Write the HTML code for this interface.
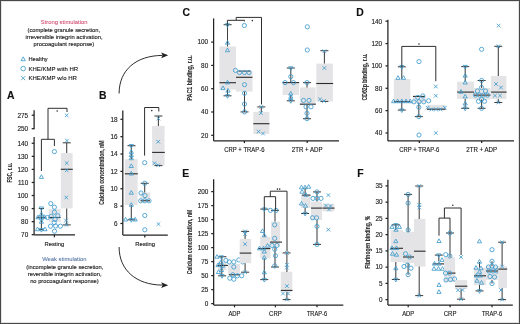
<!DOCTYPE html><html><head><meta charset="utf-8"><style>
html,body{margin:0;padding:0;background:#fff;position:relative;width:520px;height:324px;overflow:hidden;}
svg{display:block;filter:blur(0.3px);}
text{font-family:"Liberation Sans", sans-serif;}
.m{fill:none;stroke:#409cce;stroke-width:0.85;}
.med{stroke:#2b2b2b;stroke-width:1.1;fill:none;}
.wh{stroke:#404040;stroke-width:1.05;fill:none;}
.ln{stroke:#333;stroke-width:0.8;fill:none;}
.ax{stroke:#222;stroke-width:1.25;fill:none;}
.br{stroke:#2e2e2e;stroke-width:1.0;fill:none;}
</style></head><body>
<svg width="520" height="324" viewBox="0 0 520 324">
<rect x="0" y="0" width="520" height="324" fill="#fff"/>
<text x="64.15" y="24.00" font-size="6.0" text-anchor="middle" fill="#cf3f68" stroke="#cf3f68" stroke-width="0.04" font-weight="normal"  textLength="46.8" lengthAdjust="spacingAndGlyphs">Strong stimulation</text>
<text x="63.80" y="31.50" font-size="6.0" text-anchor="middle" fill="#222" stroke="#222" stroke-width="0.14" font-weight="normal"  textLength="72.5" lengthAdjust="spacingAndGlyphs">(complete granule secretion,</text>
<text x="64.05" y="38.80" font-size="6.0" text-anchor="middle" fill="#222" stroke="#222" stroke-width="0.14" font-weight="normal"  textLength="77.0" lengthAdjust="spacingAndGlyphs">irreversible integrin activation,</text>
<text x="63.90" y="46.10" font-size="6.0" text-anchor="middle" fill="#222" stroke="#222" stroke-width="0.14" font-weight="normal"  textLength="60.7" lengthAdjust="spacingAndGlyphs">procoagulant response)</text>
<path d="M21.00,60.68L25.40,60.68L23.20,56.85Z" class="m"/>
<circle cx="23.20" cy="68.60" r="2.3" class="m"/>
<path d="M21.20,76.20L25.20,80.20M25.20,76.20L21.20,80.20" class="m"/>
<text x="28.50" y="61.30" font-size="6.1" text-anchor="start" fill="#222" stroke="#222" stroke-width="0.14" font-weight="normal"  textLength="19.2" lengthAdjust="spacingAndGlyphs">Healthy</text>
<text x="28.50" y="70.70" font-size="6.1" text-anchor="start" fill="#222" stroke="#222" stroke-width="0.14" font-weight="normal"  textLength="49.6" lengthAdjust="spacingAndGlyphs">KHE/KMP with HR</text>
<text x="28.50" y="80.30" font-size="6.1" text-anchor="start" fill="#222" stroke="#222" stroke-width="0.14" font-weight="normal"  textLength="48.4" lengthAdjust="spacingAndGlyphs">KHE/KMP w/o HR</text>
<text x="64.35" y="261.30" font-size="6.0" text-anchor="middle" fill="#4a6b9b" stroke="#4a6b9b" stroke-width="0.04" font-weight="normal"  textLength="44.4" lengthAdjust="spacingAndGlyphs">Weak stimulation</text>
<text x="64.80" y="268.60" font-size="6.0" text-anchor="middle" fill="#222" stroke="#222" stroke-width="0.14" font-weight="normal"  textLength="77.1" lengthAdjust="spacingAndGlyphs">(incomplete granule secretion,</text>
<text x="64.65" y="275.90" font-size="6.0" text-anchor="middle" fill="#222" stroke="#222" stroke-width="0.14" font-weight="normal"  textLength="73.8" lengthAdjust="spacingAndGlyphs">reversible integrin activation,</text>
<text x="64.45" y="283.20" font-size="6.0" text-anchor="middle" fill="#222" stroke="#222" stroke-width="0.14" font-weight="normal"  textLength="68.6" lengthAdjust="spacingAndGlyphs">no procoagulant response)</text>
<path d="M119.1,93.5 C119.1,70 136,55.6 162.5,55.4" fill="none" stroke="#222" stroke-width="0.95"/>
<path d="M168.2,55.3 L161.2,52.4 L162.6,55.3 L161.2,58.2 Z" fill="#222"/>
<path d="M119.1,247 C119.1,270 136,284.9 162.5,285.1" fill="none" stroke="#222" stroke-width="0.95"/>
<path d="M168.2,285.2 L161.2,282.3 L162.6,285.2 L161.2,288.1 Z" fill="#222"/>
<text x="6.90" y="99.20" font-size="10.4" text-anchor="start" fill="#111" stroke="#111" stroke-width="0.14" font-weight="bold" >A</text>
<text x="98.90" y="98.80" font-size="10.4" text-anchor="start" fill="#111" stroke="#111" stroke-width="0.14" font-weight="bold" >B</text>
<text x="182.40" y="15.60" font-size="10.4" text-anchor="start" fill="#111" stroke="#111" stroke-width="0.14" font-weight="bold" >C</text>
<text x="356.20" y="15.60" font-size="10.4" text-anchor="start" fill="#111" stroke="#111" stroke-width="0.14" font-weight="bold" >D</text>
<text x="182.30" y="176.50" font-size="10.4" text-anchor="start" fill="#111" stroke="#111" stroke-width="0.14" font-weight="bold" >E</text>
<text x="357.30" y="176.70" font-size="10.4" text-anchor="start" fill="#111" stroke="#111" stroke-width="0.14" font-weight="bold" >F</text>
<path d="M34.10,110.20L34.10,129.30" class="ax"/>
<path d="M31.70,115.20L34.10,115.20" class="ax"/>
<text x="28.20" y="117.50" font-size="6.4" text-anchor="end" fill="#222" stroke="#222" stroke-width="0.14">275</text>
<path d="M31.70,128.70L34.10,128.70" class="ax"/>
<text x="28.20" y="131.00" font-size="6.4" text-anchor="end" fill="#222" stroke="#222" stroke-width="0.14">250</text>
<path d="M34.10,137.00L34.10,234.80" class="ax"/>
<path d="M31.70,234.70L34.10,234.70" class="ax"/>
<text x="28.20" y="237.00" font-size="6.4" text-anchor="end" fill="#222" stroke="#222" stroke-width="0.14">70</text>
<path d="M31.70,221.64L34.10,221.64" class="ax"/>
<text x="28.20" y="223.94" font-size="6.4" text-anchor="end" fill="#222" stroke="#222" stroke-width="0.14">80</text>
<path d="M31.70,208.58L34.10,208.58" class="ax"/>
<text x="28.20" y="210.88" font-size="6.4" text-anchor="end" fill="#222" stroke="#222" stroke-width="0.14">90</text>
<path d="M31.70,195.52L34.10,195.52" class="ax"/>
<text x="28.20" y="197.82" font-size="6.4" text-anchor="end" fill="#222" stroke="#222" stroke-width="0.14">100</text>
<path d="M31.70,182.46L34.10,182.46" class="ax"/>
<text x="28.20" y="184.76" font-size="6.4" text-anchor="end" fill="#222" stroke="#222" stroke-width="0.14">110</text>
<path d="M31.70,169.40L34.10,169.40" class="ax"/>
<text x="28.20" y="171.70" font-size="6.4" text-anchor="end" fill="#222" stroke="#222" stroke-width="0.14">120</text>
<path d="M31.70,156.34L34.10,156.34" class="ax"/>
<text x="28.20" y="158.64" font-size="6.4" text-anchor="end" fill="#222" stroke="#222" stroke-width="0.14">130</text>
<path d="M31.70,143.28L34.10,143.28" class="ax"/>
<text x="28.20" y="145.58" font-size="6.4" text-anchor="end" fill="#222" stroke="#222" stroke-width="0.14">140</text>
<path d="M34.10,234.80L75.00,234.80" class="ax"/>
<path d="M54.40,234.80L54.40,237.30" class="ax"/>
<text x="54.40" y="246.30" font-size="6.0" text-anchor="middle" fill="#222" stroke="#222" stroke-width="0.14" font-weight="normal"  textLength="19.6" lengthAdjust="spacingAndGlyphs">Resting</text>
<text transform="translate(12.40,172.80) rotate(-90)" font-size="6.6" font-weight="bold" text-anchor="middle" fill="#2a2a2a" stroke="#2a2a2a" stroke-width="0.12" textLength="19.6" lengthAdjust="spacingAndGlyphs">FSC, r.u.</text>
<path d="M41.40,208.50L41.40,229.70" class="wh"/>
<path d="M38.80,208.50L44.00,208.50" class="wh"/>
<path d="M38.80,229.70L44.00,229.70" class="wh"/>
<path d="M37.20,217.30H45.20" class="med"/>
<path d="M39.30,178.42L43.50,178.42L41.40,174.76Z" class="m"/>
<path d="M39.30,206.98L43.50,206.98L41.40,210.64Z" class="m"/>
<path d="M39.30,215.72L43.50,215.72L41.40,212.06Z" class="m"/>
<path d="M35.90,218.72L40.10,218.72L38.00,215.06Z" class="m"/>
<path d="M39.30,219.72L43.50,219.72L41.40,216.06Z" class="m"/>
<path d="M42.40,218.42L46.60,218.42L44.50,214.76Z" class="m"/>
<path d="M39.30,223.22L43.50,223.22L41.40,219.56Z" class="m"/>
<path d="M35.40,230.72L39.60,230.72L37.50,227.06Z" class="m"/>
<path d="M39.30,228.48L43.50,228.48L41.40,232.14Z" class="m"/>
<path d="M42.90,230.72L47.10,230.72L45.00,227.06Z" class="m"/>
<rect x="48.60" y="209.00" width="12.00" height="13.00" fill="#e4e4e6"/>
<path d="M48.60,217.50H60.60" class="med"/>
<circle cx="54.40" cy="151.60" r="2.1" class="m"/>
<circle cx="50.80" cy="203.60" r="2.1" class="m"/>
<circle cx="54.40" cy="207.20" r="2.1" class="m"/>
<circle cx="54.40" cy="212.20" r="2.1" class="m"/>
<circle cx="51.20" cy="216.40" r="2.1" class="m"/>
<circle cx="55.00" cy="219.40" r="2.1" class="m"/>
<circle cx="57.80" cy="215.80" r="2.1" class="m"/>
<circle cx="54.20" cy="222.60" r="2.1" class="m"/>
<circle cx="50.50" cy="226.20" r="2.1" class="m"/>
<circle cx="55.60" cy="226.00" r="2.1" class="m"/>
<circle cx="60.40" cy="226.20" r="2.1" class="m"/>
<circle cx="54.50" cy="231.20" r="2.1" class="m"/>
<circle cx="47.50" cy="217.50" r="2.1" class="m"/>
<rect x="60.80" y="153.00" width="11.80" height="55.40" fill="#e4e4e6"/>
<path d="M66.70,142.80L66.70,153.00" class="wh"/>
<path d="M62.70,142.80L70.70,142.80" class="wh"/>
<path d="M66.70,208.40L66.70,224.90" class="wh"/>
<path d="M62.70,224.90L70.70,224.90" class="wh"/>
<path d="M60.80,169.30H72.80" class="med"/>
<path d="M64.90,113.60L68.50,117.20M68.50,113.60L64.90,117.20" class="m"/>
<path d="M65.10,138.80L68.70,142.40M68.70,138.80L65.10,142.40" class="m"/>
<path d="M64.90,161.30L68.50,164.90M68.50,161.30L64.90,164.90" class="m"/>
<path d="M64.90,168.50L68.50,172.10M68.50,168.50L64.90,172.10" class="m"/>
<path d="M64.50,195.70L68.10,199.30M68.10,195.70L64.50,199.30" class="m"/>
<path d="M64.20,218.70L67.80,222.30M67.80,218.70L64.20,222.30" class="m"/>
<path d="M64.70,223.10L68.30,226.70M68.30,223.10L64.70,226.70" class="m"/>
<path d="M48.00,139.30V108.30H67.00V112.00" class="br"/>
<path d="M41.40,171.00V139.30H54.40V146.00" class="br"/>
<circle cx="57.20" cy="111.00" r="0.8" fill="#2a2a2a"/>
<path d="M122.80,110.40L122.80,235.10" class="ax"/>
<path d="M120.40,223.46L122.80,223.46" class="ax"/>
<text x="117.60" y="225.76" font-size="6.4" text-anchor="end" fill="#222" stroke="#222" stroke-width="0.14">6</text>
<path d="M120.40,206.10L122.80,206.10" class="ax"/>
<text x="117.60" y="208.40" font-size="6.4" text-anchor="end" fill="#222" stroke="#222" stroke-width="0.14">8</text>
<path d="M120.40,188.74L122.80,188.74" class="ax"/>
<text x="117.60" y="191.04" font-size="6.4" text-anchor="end" fill="#222" stroke="#222" stroke-width="0.14">10</text>
<path d="M120.40,171.38L122.80,171.38" class="ax"/>
<text x="117.60" y="173.68" font-size="6.4" text-anchor="end" fill="#222" stroke="#222" stroke-width="0.14">12</text>
<path d="M120.40,154.02L122.80,154.02" class="ax"/>
<text x="117.60" y="156.32" font-size="6.4" text-anchor="end" fill="#222" stroke="#222" stroke-width="0.14">14</text>
<path d="M120.40,136.66L122.80,136.66" class="ax"/>
<text x="117.60" y="138.96" font-size="6.4" text-anchor="end" fill="#222" stroke="#222" stroke-width="0.14">16</text>
<path d="M120.40,119.30L122.80,119.30" class="ax"/>
<text x="117.60" y="121.60" font-size="6.4" text-anchor="end" fill="#222" stroke="#222" stroke-width="0.14">18</text>
<path d="M122.80,235.10L167.80,235.10" class="ax"/>
<path d="M144.80,235.10L144.80,237.40" class="ax"/>
<text x="145.10" y="246.40" font-size="6.0" text-anchor="middle" fill="#222" stroke="#222" stroke-width="0.14" font-weight="normal"  textLength="19.8" lengthAdjust="spacingAndGlyphs">Resting</text>
<text transform="translate(104.40,172.60) rotate(-90)" font-size="6.6" font-weight="bold" text-anchor="middle" fill="#2a2a2a" stroke="#2a2a2a" stroke-width="0.12" textLength="64.3" lengthAdjust="spacingAndGlyphs">Calcium concentration, nM</text>
<rect x="124.80" y="159.20" width="12.80" height="45.80" fill="#e4e4e6"/>
<path d="M131.30,145.70L131.30,159.20" class="wh"/>
<path d="M127.50,145.70L135.50,145.70" class="wh"/>
<path d="M131.30,205.00L131.30,219.80" class="wh"/>
<path d="M127.50,219.80L135.50,219.80" class="wh"/>
<path d="M124.80,173.80H137.80" class="med"/>
<path d="M129.20,144.48L133.40,144.48L131.30,148.14Z" class="m"/>
<path d="M129.20,153.32L133.40,153.32L131.30,149.66Z" class="m"/>
<path d="M129.20,156.52L133.40,156.52L131.30,152.86Z" class="m"/>
<path d="M129.20,159.72L133.40,159.72L131.30,156.06Z" class="m"/>
<path d="M129.20,167.52L133.40,167.52L131.30,163.86Z" class="m"/>
<path d="M129.20,175.02L133.40,175.02L131.30,171.36Z" class="m"/>
<path d="M129.20,194.22L133.40,194.22L131.30,190.56Z" class="m"/>
<path d="M129.20,206.32L133.40,206.32L131.30,202.66Z" class="m"/>
<path d="M123.50,221.02L127.70,221.02L125.60,217.36Z" class="m"/>
<path d="M129.20,218.58L133.40,218.58L131.30,222.24Z" class="m"/>
<path d="M133.10,221.02L137.30,221.02L135.20,217.36Z" class="m"/>
<rect x="140.50" y="192.50" width="9.50" height="8.50" fill="#e4e4e6"/>
<path d="M144.70,183.30L144.70,192.50" class="wh"/>
<path d="M140.70,183.30L148.70,183.30" class="wh"/>
<path d="M140.50,200.80H150.00" class="med"/>
<circle cx="144.70" cy="162.70" r="2.1" class="m"/>
<circle cx="144.70" cy="183.30" r="2.1" class="m"/>
<circle cx="141.00" cy="193.00" r="2.1" class="m"/>
<circle cx="145.00" cy="195.60" r="2.1" class="m"/>
<circle cx="140.70" cy="200.80" r="2.1" class="m"/>
<circle cx="144.80" cy="200.80" r="2.1" class="m"/>
<circle cx="149.00" cy="200.80" r="2.1" class="m"/>
<circle cx="144.80" cy="215.50" r="2.1" class="m"/>
<circle cx="144.80" cy="229.80" r="2.1" class="m"/>
<rect x="152.10" y="125.90" width="12.50" height="39.70" fill="#e4e4e6"/>
<path d="M158.40,116.00L158.40,125.90" class="wh"/>
<path d="M154.40,116.00L162.40,116.00" class="wh"/>
<path d="M152.10,152.40H164.80" class="med"/>
<path d="M154.40,165.60L162.40,165.60" class="wh"/>
<path d="M156.60,116.80L160.20,120.40M160.20,116.80L156.60,120.40" class="m"/>
<path d="M156.40,139.90L160.00,143.50M160.00,139.90L156.40,143.50" class="m"/>
<path d="M152.70,161.40L156.30,165.00M156.30,161.40L152.70,165.00" class="m"/>
<path d="M156.40,163.40L160.00,167.00M160.00,163.40L156.40,167.00" class="m"/>
<path d="M156.70,222.30L160.30,225.90M160.30,222.30L156.70,225.90" class="m"/>
<path d="M144.60,155.60V107.50H158.80V111.50" class="br"/>
<circle cx="151.80" cy="110.60" r="0.8" fill="#2a2a2a"/>
<path d="M213.60,18.40L213.60,140.90" class="ax"/>
<path d="M211.20,135.30L213.60,135.30" class="ax"/>
<text x="208.20" y="137.60" font-size="6.4" text-anchor="end" fill="#222" stroke="#222" stroke-width="0.14">20</text>
<path d="M211.20,112.00L213.60,112.00" class="ax"/>
<text x="208.20" y="114.30" font-size="6.4" text-anchor="end" fill="#222" stroke="#222" stroke-width="0.14">40</text>
<path d="M211.20,88.70L213.60,88.70" class="ax"/>
<text x="208.20" y="91.00" font-size="6.4" text-anchor="end" fill="#222" stroke="#222" stroke-width="0.14">60</text>
<path d="M211.20,65.40L213.60,65.40" class="ax"/>
<text x="208.20" y="67.70" font-size="6.4" text-anchor="end" fill="#222" stroke="#222" stroke-width="0.14">80</text>
<path d="M211.20,42.10L213.60,42.10" class="ax"/>
<text x="208.20" y="44.40" font-size="6.4" text-anchor="end" fill="#222" stroke="#222" stroke-width="0.14">100</text>
<path d="M213.60,140.90L339.00,140.90" class="ax"/>
<path d="M244.40,140.90L244.40,143.10" class="ax"/>
<text x="244.40" y="152.00" font-size="6.3" text-anchor="middle" fill="#222" stroke="#222" stroke-width="0.14" font-weight="normal"  textLength="40.2" lengthAdjust="spacingAndGlyphs">CRP + TRAP-6</text>
<path d="M307.20,140.90L307.20,143.10" class="ax"/>
<text x="307.20" y="152.00" font-size="6.3" text-anchor="middle" fill="#222" stroke="#222" stroke-width="0.14" font-weight="normal"  textLength="30.8" lengthAdjust="spacingAndGlyphs">2TR + ADP</text>
<text transform="translate(192.40,77.90) rotate(-90)" font-size="6.6" font-weight="bold" text-anchor="middle" fill="#2a2a2a" stroke="#2a2a2a" stroke-width="0.12" textLength="45.4" lengthAdjust="spacingAndGlyphs">PAC1 binding, r.u.</text>
<rect x="219.40" y="46.50" width="16.60" height="43.10" fill="#e4e4e6"/>
<path d="M227.50,24.70L227.50,46.50" class="wh"/>
<path d="M223.60,24.70L231.60,24.70" class="wh"/>
<path d="M227.50,89.60L227.50,95.80" class="wh"/>
<path d="M223.50,95.80L231.50,95.80" class="wh"/>
<path d="M219.40,82.70H236.00" class="med"/>
<path d="M225.40,23.68L229.60,23.68L227.50,27.34Z" class="m"/>
<path d="M225.40,44.22L229.60,44.22L227.50,40.56Z" class="m"/>
<path d="M225.40,51.72L229.60,51.72L227.50,48.06Z" class="m"/>
<path d="M225.40,83.92L229.60,83.92L227.50,80.26Z" class="m"/>
<path d="M220.90,89.62L225.10,89.62L223.00,85.96Z" class="m"/>
<path d="M225.90,92.12L230.10,92.12L228.00,88.46Z" class="m"/>
<path d="M225.40,94.58L229.60,94.58L227.50,98.24Z" class="m"/>
<rect x="236.00" y="71.10" width="16.50" height="20.50" fill="#e4e4e6"/>
<path d="M244.50,91.60L244.50,111.90" class="wh"/>
<path d="M240.50,111.90L248.50,111.90" class="wh"/>
<path d="M238.50,71.10L250.50,71.10" class="wh"/>
<path d="M236.00,77.30H252.50" class="med"/>
<circle cx="244.40" cy="25.50" r="2.1" class="m"/>
<circle cx="235.50" cy="70.40" r="2.1" class="m"/>
<circle cx="239.50" cy="72.50" r="2.1" class="m"/>
<circle cx="244.50" cy="72.50" r="2.1" class="m"/>
<circle cx="249.00" cy="72.50" r="2.1" class="m"/>
<circle cx="244.50" cy="84.70" r="2.1" class="m"/>
<circle cx="244.50" cy="93.30" r="2.1" class="m"/>
<circle cx="244.50" cy="104.00" r="2.1" class="m"/>
<circle cx="244.50" cy="111.90" r="2.1" class="m"/>
<rect x="253.30" y="111.90" width="16.00" height="22.10" fill="#e4e4e6"/>
<path d="M261.30,106.90L261.30,111.90" class="wh"/>
<path d="M257.30,106.90L265.30,106.90" class="wh"/>
<path d="M253.30,123.70H269.50" class="med"/>
<path d="M259.50,105.10L263.10,108.70M263.10,105.10L259.50,108.70" class="m"/>
<path d="M259.10,111.30L262.70,114.90M262.70,111.30L259.10,114.90" class="m"/>
<path d="M256.70,129.80L260.30,133.40M260.30,129.80L256.70,133.40" class="m"/>
<path d="M261.20,131.70L264.80,135.30M264.80,131.70L261.20,135.30" class="m"/>
<path d="M236.20,20.30V17.40H261.50V104.40" class="br"/>
<path d="M227.40,24.40V20.30H244.50V21.40" class="br"/>
<circle cx="252.30" cy="20.60" r="0.8" fill="#2a2a2a"/>
<rect x="282.60" y="82.60" width="16.40" height="12.40" fill="#e4e4e6"/>
<path d="M290.80,68.00L290.80,82.60" class="wh"/>
<path d="M286.80,68.00L294.80,68.00" class="wh"/>
<path d="M290.80,95.00L290.80,100.80" class="wh"/>
<path d="M286.80,100.80L294.80,100.80" class="wh"/>
<path d="M282.60,82.60H299.20" class="med"/>
<path d="M288.70,66.78L292.90,66.78L290.80,70.44Z" class="m"/>
<path d="M288.70,95.12L292.90,95.12L290.80,91.46Z" class="m"/>
<path d="M288.70,98.32L292.90,98.32L290.80,94.66Z" class="m"/>
<path d="M288.70,99.58L292.90,99.58L290.80,103.24Z" class="m"/>
<circle cx="290.80" cy="76.60" r="2.1" class="m"/>
<circle cx="285.00" cy="82.60" r="2.1" class="m"/>
<circle cx="293.50" cy="82.60" r="2.1" class="m"/>
<rect x="299.90" y="87.40" width="15.70" height="16.80" fill="#e4e4e6"/>
<path d="M303.00,82.60L311.00,82.60" class="wh"/>
<path d="M307.00,82.60L307.00,87.40" class="wh"/>
<path d="M307.00,104.20L307.00,118.70" class="wh"/>
<path d="M303.00,118.70L311.00,118.70" class="wh"/>
<path d="M299.90,104.20H315.80" class="med"/>
<circle cx="307.30" cy="26.80" r="2.1" class="m"/>
<circle cx="307.30" cy="50.00" r="2.1" class="m"/>
<circle cx="307.00" cy="82.60" r="2.1" class="m"/>
<circle cx="303.50" cy="100.40" r="2.1" class="m"/>
<circle cx="309.00" cy="100.40" r="2.1" class="m"/>
<circle cx="306.00" cy="106.80" r="2.1" class="m"/>
<circle cx="311.00" cy="106.80" r="2.1" class="m"/>
<circle cx="307.00" cy="113.30" r="2.1" class="m"/>
<circle cx="307.00" cy="118.70" r="2.1" class="m"/>
<rect x="316.30" y="63.60" width="16.60" height="37.80" fill="#e4e4e6"/>
<path d="M324.40,50.70L324.40,63.60" class="wh"/>
<path d="M320.40,50.70L328.40,50.70" class="wh"/>
<path d="M316.30,83.50H333.10" class="med"/>
<path d="M320.40,101.40L328.40,101.40" class="wh"/>
<path d="M322.60,49.40L326.20,53.00M326.20,49.40L322.60,53.00" class="m"/>
<path d="M322.60,66.20L326.20,69.80M326.20,66.20L322.60,69.80" class="m"/>
<path d="M318.20,97.50L321.80,101.10M321.80,97.50L318.20,101.10" class="m"/>
<path d="M322.20,99.20L325.80,102.80M325.80,99.20L322.20,102.80" class="m"/>
<path d="M387.90,19.80L387.90,140.90" class="ax"/>
<path d="M385.50,133.00L387.90,133.00" class="ax"/>
<text x="382.20" y="135.30" font-size="6.4" text-anchor="end" fill="#222" stroke="#222" stroke-width="0.14">40</text>
<path d="M385.50,110.64L387.90,110.64" class="ax"/>
<text x="382.20" y="112.94" font-size="6.4" text-anchor="end" fill="#222" stroke="#222" stroke-width="0.14">60</text>
<path d="M385.50,88.28L387.90,88.28" class="ax"/>
<text x="382.20" y="90.58" font-size="6.4" text-anchor="end" fill="#222" stroke="#222" stroke-width="0.14">80</text>
<path d="M385.50,65.92L387.90,65.92" class="ax"/>
<text x="382.20" y="68.22" font-size="6.4" text-anchor="end" fill="#222" stroke="#222" stroke-width="0.14">100</text>
<path d="M385.50,43.56L387.90,43.56" class="ax"/>
<text x="382.20" y="45.86" font-size="6.4" text-anchor="end" fill="#222" stroke="#222" stroke-width="0.14">120</text>
<path d="M385.50,21.20L387.90,21.20" class="ax"/>
<text x="382.20" y="23.50" font-size="6.4" text-anchor="end" fill="#222" stroke="#222" stroke-width="0.14">140</text>
<path d="M387.90,140.90L514.00,140.90" class="ax"/>
<path d="M419.30,140.90L419.30,143.10" class="ax"/>
<text x="419.30" y="151.70" font-size="6.3" text-anchor="middle" fill="#222" stroke="#222" stroke-width="0.14" font-weight="normal"  textLength="40.2" lengthAdjust="spacingAndGlyphs">CRP + TRAP-6</text>
<path d="M481.70,140.90L481.70,143.10" class="ax"/>
<text x="481.70" y="151.70" font-size="6.3" text-anchor="middle" fill="#222" stroke="#222" stroke-width="0.14" font-weight="normal"  textLength="30.8" lengthAdjust="spacingAndGlyphs">2TR + ADP</text>
<text transform="translate(366.80,77.00) rotate(-90)" font-size="6.6" font-weight="bold" text-anchor="middle" fill="#2a2a2a" stroke="#2a2a2a" stroke-width="0.12" textLength="46.9" lengthAdjust="spacingAndGlyphs">CD62p binding, r.u.</text>
<rect x="393.80" y="79.10" width="16.50" height="22.60" fill="#e4e4e6"/>
<path d="M401.80,66.80L401.80,79.10" class="wh"/>
<path d="M397.80,66.80L405.80,66.80" class="wh"/>
<path d="M401.80,101.70L401.80,110.10" class="wh"/>
<path d="M397.80,110.10L405.80,110.10" class="wh"/>
<path d="M393.80,101.70H410.50" class="med"/>
<path d="M399.70,65.58L403.90,65.58L401.80,69.24Z" class="m"/>
<path d="M395.90,79.32L400.10,79.32L398.00,75.66Z" class="m"/>
<path d="M401.40,79.32L405.60,79.32L403.50,75.66Z" class="m"/>
<path d="M391.50,102.72L395.70,102.72L393.60,99.06Z" class="m"/>
<path d="M395.50,102.72L399.70,102.72L397.60,99.06Z" class="m"/>
<path d="M399.70,102.72L403.90,102.72L401.80,99.06Z" class="m"/>
<path d="M403.90,102.72L408.10,102.72L406.00,99.06Z" class="m"/>
<path d="M408.10,102.72L412.30,102.72L410.20,99.06Z" class="m"/>
<path d="M399.70,108.88L403.90,108.88L401.80,112.54Z" class="m"/>
<rect x="413.00" y="96.40" width="13.00" height="6.10" fill="#e4e4e6"/>
<path d="M413.00,96.40H425.00" class="med"/>
<path d="M418.80,102.50L418.80,116.60" class="wh"/>
<path d="M414.80,116.60L422.80,116.60" class="wh"/>
<circle cx="419.00" cy="61.60" r="2.1" class="m"/>
<circle cx="417.80" cy="97.40" r="2.1" class="m"/>
<circle cx="422.80" cy="95.90" r="2.1" class="m"/>
<circle cx="414.00" cy="101.80" r="2.1" class="m"/>
<circle cx="419.00" cy="101.80" r="2.1" class="m"/>
<circle cx="423.80" cy="101.80" r="2.1" class="m"/>
<circle cx="428.70" cy="100.80" r="2.1" class="m"/>
<circle cx="418.80" cy="107.20" r="2.1" class="m"/>
<circle cx="418.80" cy="116.60" r="2.1" class="m"/>
<circle cx="419.00" cy="135.00" r="2.1" class="m"/>
<rect x="427.00" y="104.80" width="18.50" height="5.70" fill="#e4e4e6"/>
<path d="M427.00,109.20H445.50" class="med"/>
<path d="M434.00,84.70L437.60,88.30M437.60,84.70L434.00,88.30" class="m"/>
<path d="M434.00,93.90L437.60,97.50M437.60,93.90L434.00,97.50" class="m"/>
<path d="M425.80,105.90L429.40,109.50M429.40,105.90L425.80,109.50" class="m"/>
<path d="M429.70,107.50L433.30,111.10M433.30,107.50L429.70,111.10" class="m"/>
<path d="M434.20,107.50L437.80,111.10M437.80,107.50L434.20,111.10" class="m"/>
<path d="M438.70,107.50L442.30,111.10M442.30,107.50L438.70,111.10" class="m"/>
<path d="M443.00,105.90L446.60,109.50M446.60,105.90L443.00,109.50" class="m"/>
<path d="M434.00,131.20L437.60,134.80M437.60,131.20L434.00,134.80" class="m"/>
<path d="M401.80,66.80V46.40H435.80V81.20" class="br"/>
<circle cx="419.00" cy="44.00" r="0.8" fill="#2a2a2a"/>
<rect x="457.10" y="81.70" width="16.90" height="17.30" fill="#e4e4e6"/>
<path d="M465.20,66.60L465.20,81.70" class="wh"/>
<path d="M461.20,66.60L469.20,66.60" class="wh"/>
<path d="M465.20,99.00L465.20,108.30" class="wh"/>
<path d="M461.20,108.30L469.20,108.30" class="wh"/>
<path d="M457.10,92.10H474.20" class="med"/>
<path d="M463.10,65.38L467.30,65.38L465.20,69.04Z" class="m"/>
<path d="M463.10,77.12L467.30,77.12L465.20,73.46Z" class="m"/>
<path d="M463.10,84.02L467.30,84.02L465.20,80.36Z" class="m"/>
<path d="M458.90,93.22L463.10,93.22L461.00,89.56Z" class="m"/>
<path d="M463.10,97.92L467.30,97.92L465.20,94.26Z" class="m"/>
<path d="M463.10,104.92L467.30,104.92L465.20,101.26Z" class="m"/>
<path d="M463.10,107.08L467.30,107.08L465.20,110.74Z" class="m"/>
<rect x="474.00" y="88.00" width="16.50" height="11.50" fill="#e4e4e6"/>
<path d="M474.00,95.10H490.50" class="med"/>
<path d="M481.60,80.50L481.60,88.00" class="wh"/>
<path d="M477.60,80.50L485.60,80.50" class="wh"/>
<path d="M481.60,99.50L481.60,108.30" class="wh"/>
<path d="M477.60,108.30L485.60,108.30" class="wh"/>
<circle cx="481.60" cy="49.30" r="2.1" class="m"/>
<circle cx="481.60" cy="80.50" r="2.1" class="m"/>
<circle cx="481.60" cy="87.50" r="2.1" class="m"/>
<circle cx="477.50" cy="91.00" r="2.1" class="m"/>
<circle cx="485.50" cy="91.00" r="2.1" class="m"/>
<circle cx="475.50" cy="95.10" r="2.1" class="m"/>
<circle cx="479.50" cy="95.10" r="2.1" class="m"/>
<circle cx="483.50" cy="95.10" r="2.1" class="m"/>
<circle cx="487.50" cy="95.10" r="2.1" class="m"/>
<circle cx="481.60" cy="99.50" r="2.1" class="m"/>
<circle cx="478.50" cy="101.30" r="2.1" class="m"/>
<circle cx="484.50" cy="101.30" r="2.1" class="m"/>
<circle cx="481.60" cy="108.30" r="2.1" class="m"/>
<rect x="490.90" y="75.90" width="15.50" height="23.10" fill="#e4e4e6"/>
<path d="M498.30,46.30L498.30,75.90" class="wh"/>
<path d="M494.30,46.30L502.30,46.30" class="wh"/>
<path d="M498.30,99.00L498.30,102.50" class="wh"/>
<path d="M494.30,102.50L502.30,102.50" class="wh"/>
<path d="M490.90,92.10H506.60" class="med"/>
<path d="M496.80,23.80L500.40,27.40M500.40,23.80L496.80,27.40" class="m"/>
<path d="M496.50,44.50L500.10,48.10M500.10,44.50L496.50,48.10" class="m"/>
<path d="M494.20,82.20L497.80,85.80M497.80,82.20L494.20,85.80" class="m"/>
<path d="M499.20,85.70L502.80,89.30M502.80,85.70L499.20,89.30" class="m"/>
<path d="M493.20,93.80L496.80,97.40M496.80,93.80L493.20,97.40" class="m"/>
<path d="M498.20,93.80L501.80,97.40M501.80,93.80L498.20,97.40" class="m"/>
<path d="M496.50,100.70L500.10,104.30M500.10,100.70L496.50,104.30" class="m"/>
<path d="M213.65,179.30L213.65,305.10" class="ax"/>
<path d="M211.25,303.60L213.65,303.60" class="ax"/>
<text x="208.40" y="305.90" font-size="6.4" text-anchor="end" fill="#222" stroke="#222" stroke-width="0.14">0</text>
<path d="M211.25,289.60L213.65,289.60" class="ax"/>
<text x="208.40" y="291.90" font-size="6.4" text-anchor="end" fill="#222" stroke="#222" stroke-width="0.14">25</text>
<path d="M211.25,275.60L213.65,275.60" class="ax"/>
<text x="208.40" y="277.90" font-size="6.4" text-anchor="end" fill="#222" stroke="#222" stroke-width="0.14">50</text>
<path d="M211.25,261.60L213.65,261.60" class="ax"/>
<text x="208.40" y="263.90" font-size="6.4" text-anchor="end" fill="#222" stroke="#222" stroke-width="0.14">75</text>
<path d="M211.25,247.60L213.65,247.60" class="ax"/>
<text x="208.40" y="249.90" font-size="6.4" text-anchor="end" fill="#222" stroke="#222" stroke-width="0.14">100</text>
<path d="M211.25,233.60L213.65,233.60" class="ax"/>
<text x="208.40" y="235.90" font-size="6.4" text-anchor="end" fill="#222" stroke="#222" stroke-width="0.14">125</text>
<path d="M211.25,219.60L213.65,219.60" class="ax"/>
<text x="208.40" y="221.90" font-size="6.4" text-anchor="end" fill="#222" stroke="#222" stroke-width="0.14">150</text>
<path d="M211.25,205.60L213.65,205.60" class="ax"/>
<text x="208.40" y="207.90" font-size="6.4" text-anchor="end" fill="#222" stroke="#222" stroke-width="0.14">175</text>
<path d="M211.25,191.60L213.65,191.60" class="ax"/>
<text x="208.40" y="193.90" font-size="6.4" text-anchor="end" fill="#222" stroke="#222" stroke-width="0.14">200</text>
<path d="M213.65,305.10L343.30,305.10" class="ax"/>
<path d="M234.50,305.10L234.50,307.30" class="ax"/>
<text x="234.50" y="316.30" font-size="6.3" text-anchor="middle" fill="#222" stroke="#222" stroke-width="0.14" font-weight="normal"  textLength="12.1" lengthAdjust="spacingAndGlyphs">ADP</text>
<path d="M275.40,305.10L275.40,307.30" class="ax"/>
<text x="275.40" y="316.30" font-size="6.3" text-anchor="middle" fill="#222" stroke="#222" stroke-width="0.14" font-weight="normal"  textLength="12.7" lengthAdjust="spacingAndGlyphs">CRP</text>
<path d="M317.00,305.10L317.00,307.30" class="ax"/>
<text x="317.00" y="316.30" font-size="6.3" text-anchor="middle" fill="#222" stroke="#222" stroke-width="0.14" font-weight="normal"  textLength="20.2" lengthAdjust="spacingAndGlyphs">TRAP-6</text>
<text transform="translate(191.90,242.00) rotate(-90)" font-size="6.6" font-weight="bold" text-anchor="middle" fill="#2a2a2a" stroke="#2a2a2a" stroke-width="0.12" textLength="64.3" lengthAdjust="spacingAndGlyphs">Calcium concentration, nM</text>
<rect x="218.00" y="261.50" width="8.50" height="8.50" fill="#e4e4e6"/>
<path d="M221.80,257.00L221.80,275.80" class="wh"/>
<path d="M218.40,256.70L226.40,256.70" class="wh"/>
<path d="M218.10,275.80L226.10,275.80" class="wh"/>
<path d="M217.50,265.40H227.90" class="med"/>
<path d="M214.90,258.22L219.10,258.22L217.00,254.56Z" class="m"/>
<path d="M219.30,255.78L223.50,255.78L221.40,259.44Z" class="m"/>
<path d="M218.80,263.72L223.00,263.72L220.90,260.06Z" class="m"/>
<path d="M215.90,266.62L220.10,266.62L218.00,262.96Z" class="m"/>
<path d="M220.40,267.22L224.60,267.22L222.50,263.56Z" class="m"/>
<path d="M219.40,271.52L223.60,271.52L221.50,267.86Z" class="m"/>
<path d="M216.40,273.52L220.60,273.52L218.50,269.86Z" class="m"/>
<path d="M219.90,274.58L224.10,274.58L222.00,278.24Z" class="m"/>
<rect x="228.00" y="264.00" width="12.00" height="10.80" fill="#e4e4e6"/>
<path d="M228.90,274.80H240.00" class="med"/>
<circle cx="225.90" cy="260.40" r="2.1" class="m"/>
<circle cx="229.30" cy="261.90" r="2.1" class="m"/>
<circle cx="233.80" cy="261.90" r="2.1" class="m"/>
<circle cx="238.80" cy="259.90" r="2.1" class="m"/>
<circle cx="242.70" cy="261.90" r="2.1" class="m"/>
<circle cx="233.80" cy="266.90" r="2.1" class="m"/>
<circle cx="232.80" cy="274.80" r="2.1" class="m"/>
<circle cx="237.30" cy="275.80" r="2.1" class="m"/>
<circle cx="241.70" cy="275.80" r="2.1" class="m"/>
<circle cx="229.80" cy="278.20" r="2.1" class="m"/>
<circle cx="233.80" cy="279.20" r="2.1" class="m"/>
<rect x="239.70" y="239.00" width="11.50" height="24.20" fill="#e4e4e6"/>
<path d="M245.10,231.40L245.10,239.00" class="wh"/>
<path d="M241.10,231.40L249.10,231.40" class="wh"/>
<path d="M245.10,263.20L245.10,272.20" class="wh"/>
<path d="M241.10,272.20L249.10,272.20" class="wh"/>
<path d="M239.70,253.10H251.40" class="med"/>
<path d="M243.30,229.60L246.90,233.20M246.90,229.60L243.30,233.20" class="m"/>
<path d="M243.30,232.20L246.90,235.80M246.90,232.20L243.30,235.80" class="m"/>
<path d="M243.30,242.30L246.90,245.90M246.90,242.30L243.30,245.90" class="m"/>
<path d="M243.30,270.40L246.90,274.00M246.90,270.40L243.30,274.00" class="m"/>
<rect x="260.20" y="236.70" width="10.20" height="21.60" fill="#e4e4e6"/>
<path d="M264.30,209.10L264.30,236.70" class="wh"/>
<path d="M260.30,209.10L268.30,209.10" class="wh"/>
<path d="M264.30,258.30L264.30,279.60" class="wh"/>
<path d="M260.30,279.60L268.30,279.60" class="wh"/>
<path d="M258.20,248.60H270.40" class="med"/>
<path d="M262.20,207.88L266.40,207.88L264.30,211.54Z" class="m"/>
<path d="M260.40,232.52L264.60,232.52L262.50,228.86Z" class="m"/>
<path d="M262.20,236.82L266.40,236.82L264.30,233.16Z" class="m"/>
<path d="M257.40,249.82L261.60,249.82L259.50,246.16Z" class="m"/>
<path d="M261.40,249.82L265.60,249.82L263.50,246.16Z" class="m"/>
<path d="M265.40,247.22L269.60,247.22L267.50,243.56Z" class="m"/>
<path d="M262.20,253.02L266.40,253.02L264.30,249.36Z" class="m"/>
<path d="M262.20,259.12L266.40,259.12L264.30,255.46Z" class="m"/>
<path d="M262.20,273.82L266.40,273.82L264.30,270.16Z" class="m"/>
<path d="M262.20,278.38L266.40,278.38L264.30,282.04Z" class="m"/>
<rect x="271.00" y="221.60" width="9.10" height="24.80" fill="#e4e4e6"/>
<path d="M275.00,210.40L275.00,221.60" class="wh"/>
<path d="M271.00,210.40L279.00,210.40" class="wh"/>
<path d="M275.00,246.40L275.00,267.00" class="wh"/>
<path d="M271.00,267.00L279.00,267.00" class="wh"/>
<path d="M270.00,242.10H282.00" class="med"/>
<circle cx="270.50" cy="210.40" r="2.1" class="m"/>
<circle cx="276.00" cy="210.40" r="2.1" class="m"/>
<circle cx="274.70" cy="224.80" r="2.1" class="m"/>
<circle cx="274.70" cy="238.40" r="2.1" class="m"/>
<circle cx="272.00" cy="245.40" r="2.1" class="m"/>
<circle cx="277.00" cy="245.40" r="2.1" class="m"/>
<circle cx="274.70" cy="249.20" r="2.1" class="m"/>
<circle cx="275.50" cy="255.80" r="2.1" class="m"/>
<circle cx="274.70" cy="265.90" r="2.1" class="m"/>
<rect x="280.80" y="271.70" width="11.50" height="20.00" fill="#e4e4e6"/>
<path d="M286.90,252.90L286.90,271.90" class="wh"/>
<path d="M282.60,252.90L290.60,252.90" class="wh"/>
<path d="M286.90,291.70L286.90,299.60" class="wh"/>
<path d="M282.60,299.60L290.60,299.60" class="wh"/>
<path d="M280.80,290.40H292.50" class="med"/>
<path d="M285.10,251.10L288.70,254.70M288.70,251.10L285.10,254.70" class="m"/>
<path d="M285.10,263.00L288.70,266.60M288.70,263.00L285.10,266.60" class="m"/>
<path d="M285.10,265.80L288.70,269.40M288.70,265.80L285.10,269.40" class="m"/>
<path d="M285.10,284.30L288.70,287.90M288.70,284.30L285.10,287.90" class="m"/>
<path d="M281.20,291.70L284.80,295.30M284.80,291.70L281.20,295.30" class="m"/>
<path d="M286.20,291.70L289.80,295.30M289.80,291.70L286.20,295.30" class="m"/>
<path d="M285.10,297.80L288.70,301.40M288.70,297.80L285.10,301.40" class="m"/>
<path d="M270.30,196.70V191.20H287.00V251.60" class="br"/>
<path d="M264.30,209.10V196.70H275.60V210.00" class="br"/>
<circle cx="277.40" cy="189.10" r="0.8" fill="#2a2a2a"/>
<circle cx="279.70" cy="189.10" r="0.8" fill="#2a2a2a"/>
<rect x="301.00" y="195.10" width="9.50" height="12.90" fill="#e4e4e6"/>
<path d="M305.10,187.60L305.10,195.10" class="wh"/>
<path d="M305.10,208.00L305.10,213.50" class="wh"/>
<path d="M301.10,213.50L309.10,213.50" class="wh"/>
<path d="M301.90,195.10H310.50" class="med"/>
<path d="M299.40,188.82L303.60,188.82L301.50,185.16Z" class="m"/>
<path d="M303.00,188.82L307.20,188.82L305.10,185.16Z" class="m"/>
<path d="M306.60,188.22L310.80,188.22L308.70,184.56Z" class="m"/>
<path d="M299.90,193.22L304.10,193.22L302.00,189.56Z" class="m"/>
<path d="M303.90,196.32L308.10,196.32L306.00,192.66Z" class="m"/>
<path d="M299.40,205.02L303.60,205.02L301.50,201.36Z" class="m"/>
<path d="M303.40,207.22L307.60,207.22L305.50,203.56Z" class="m"/>
<path d="M303.00,212.28L307.20,212.28L305.10,215.94Z" class="m"/>
<rect x="311.00" y="201.60" width="11.00" height="18.40" fill="#e4e4e6"/>
<path d="M317.00,191.90L317.00,201.60" class="wh"/>
<path d="M313.00,191.90L321.00,191.90" class="wh"/>
<path d="M317.00,220.00L317.00,244.40" class="wh"/>
<path d="M313.00,244.40L321.00,244.40" class="wh"/>
<path d="M311.00,208.10H322.00" class="med"/>
<circle cx="317.00" cy="191.90" r="2.1" class="m"/>
<circle cx="313.00" cy="198.40" r="2.1" class="m"/>
<circle cx="317.00" cy="198.40" r="2.1" class="m"/>
<circle cx="321.00" cy="198.40" r="2.1" class="m"/>
<circle cx="312.50" cy="217.80" r="2.1" class="m"/>
<circle cx="316.50" cy="217.80" r="2.1" class="m"/>
<circle cx="317.00" cy="226.40" r="2.1" class="m"/>
<circle cx="317.00" cy="244.40" r="2.1" class="m"/>
<rect x="322.40" y="203.80" width="11.90" height="7.50" fill="#e4e4e6"/>
<path d="M322.40,208.10H334.50" class="med"/>
<path d="M326.60,193.30L330.20,196.90M330.20,193.30L326.60,196.90" class="m"/>
<path d="M324.20,203.70L327.80,207.30M327.80,203.70L324.20,207.30" class="m"/>
<path d="M328.70,204.20L332.30,207.80M332.30,204.20L328.70,207.80" class="m"/>
<path d="M327.20,207.70L330.80,211.30M330.80,207.70L327.20,211.30" class="m"/>
<path d="M326.60,227.90L330.20,231.50M330.20,227.90L326.60,231.50" class="m"/>
<path d="M387.90,179.80L387.90,305.10" class="ax"/>
<path d="M385.50,299.65L387.90,299.65" class="ax"/>
<text x="382.60" y="301.95" font-size="6.4" text-anchor="end" fill="#222" stroke="#222" stroke-width="0.14">0</text>
<path d="M385.50,283.40L387.90,283.40" class="ax"/>
<text x="382.60" y="285.70" font-size="6.4" text-anchor="end" fill="#222" stroke="#222" stroke-width="0.14">5</text>
<path d="M385.50,267.15L387.90,267.15" class="ax"/>
<text x="382.60" y="269.45" font-size="6.4" text-anchor="end" fill="#222" stroke="#222" stroke-width="0.14">10</text>
<path d="M385.50,250.90L387.90,250.90" class="ax"/>
<text x="382.60" y="253.20" font-size="6.4" text-anchor="end" fill="#222" stroke="#222" stroke-width="0.14">15</text>
<path d="M385.50,234.65L387.90,234.65" class="ax"/>
<text x="382.60" y="236.95" font-size="6.4" text-anchor="end" fill="#222" stroke="#222" stroke-width="0.14">20</text>
<path d="M385.50,218.40L387.90,218.40" class="ax"/>
<text x="382.60" y="220.70" font-size="6.4" text-anchor="end" fill="#222" stroke="#222" stroke-width="0.14">25</text>
<path d="M385.50,202.15L387.90,202.15" class="ax"/>
<text x="382.60" y="204.45" font-size="6.4" text-anchor="end" fill="#222" stroke="#222" stroke-width="0.14">30</text>
<path d="M385.50,185.90L387.90,185.90" class="ax"/>
<text x="382.60" y="188.20" font-size="6.4" text-anchor="end" fill="#222" stroke="#222" stroke-width="0.14">35</text>
<path d="M387.90,305.10L512.80,305.10" class="ax"/>
<path d="M408.20,305.10L408.20,307.30" class="ax"/>
<text x="408.20" y="316.30" font-size="6.3" text-anchor="middle" fill="#222" stroke="#222" stroke-width="0.14" font-weight="normal"  textLength="12.1" lengthAdjust="spacingAndGlyphs">ADP</text>
<path d="M450.10,305.10L450.10,307.30" class="ax"/>
<text x="450.10" y="316.30" font-size="6.3" text-anchor="middle" fill="#222" stroke="#222" stroke-width="0.14" font-weight="normal"  textLength="12.7" lengthAdjust="spacingAndGlyphs">CRP</text>
<path d="M492.00,305.10L492.00,307.30" class="ax"/>
<text x="492.00" y="316.30" font-size="6.3" text-anchor="middle" fill="#222" stroke="#222" stroke-width="0.14" font-weight="normal"  textLength="20.2" lengthAdjust="spacingAndGlyphs">TRAP-6</text>
<text transform="translate(370.00,242.20) rotate(-90)" font-size="6.6" font-weight="bold" text-anchor="middle" fill="#2a2a2a" stroke="#2a2a2a" stroke-width="0.12" textLength="52.6" lengthAdjust="spacingAndGlyphs">Fibrinogen binding, %</text>
<rect x="390.60" y="230.00" width="12.40" height="32.00" fill="#e4e4e6"/>
<path d="M395.80,224.80L395.80,230.00" class="wh"/>
<path d="M391.80,224.80L399.80,224.80" class="wh"/>
<path d="M395.80,262.00L395.80,279.50" class="wh"/>
<path d="M391.80,279.50L399.80,279.50" class="wh"/>
<path d="M390.60,248.30H403.00" class="med"/>
<path d="M389.90,228.42L394.10,228.42L392.00,224.76Z" class="m"/>
<path d="M393.70,223.58L397.90,223.58L395.80,227.24Z" class="m"/>
<path d="M397.40,228.42L401.60,228.42L399.50,224.76Z" class="m"/>
<path d="M393.90,231.22L398.10,231.22L396.00,227.56Z" class="m"/>
<path d="M393.70,242.72L397.90,242.72L395.80,239.06Z" class="m"/>
<path d="M389.90,249.52L394.10,249.52L392.00,245.86Z" class="m"/>
<path d="M394.40,249.52L398.60,249.52L396.50,245.86Z" class="m"/>
<path d="M390.40,255.22L394.60,255.22L392.50,251.56Z" class="m"/>
<path d="M394.40,256.22L398.60,256.22L396.50,252.56Z" class="m"/>
<path d="M393.70,269.72L397.90,269.72L395.80,266.06Z" class="m"/>
<path d="M393.70,278.28L397.90,278.28L395.80,281.94Z" class="m"/>
<rect x="403.00" y="231.90" width="11.00" height="31.10" fill="#e4e4e6"/>
<path d="M408.10,194.40L408.10,231.90" class="wh"/>
<path d="M404.10,194.40L412.10,194.40" class="wh"/>
<path d="M408.10,263.00L408.10,274.70" class="wh"/>
<path d="M403.00,257.00H414.00" class="med"/>
<circle cx="408.10" cy="194.40" r="2.1" class="m"/>
<circle cx="408.10" cy="203.10" r="2.1" class="m"/>
<circle cx="408.10" cy="230.00" r="2.1" class="m"/>
<circle cx="405.50" cy="253.80" r="2.1" class="m"/>
<circle cx="409.50" cy="257.00" r="2.1" class="m"/>
<circle cx="404.00" cy="266.50" r="2.1" class="m"/>
<circle cx="407.50" cy="265.00" r="2.1" class="m"/>
<circle cx="411.00" cy="268.20" r="2.1" class="m"/>
<circle cx="408.10" cy="274.70" r="2.1" class="m"/>
<rect x="414.00" y="218.90" width="11.40" height="47.70" fill="#e4e4e6"/>
<path d="M419.20,186.00L419.20,218.90" class="wh"/>
<path d="M415.20,186.00L423.20,186.00" class="wh"/>
<path d="M419.20,266.60L419.20,295.60" class="wh"/>
<path d="M415.20,295.60L423.20,295.60" class="wh"/>
<path d="M414.00,251.20H425.60" class="med"/>
<path d="M417.40,184.20L421.00,187.80M421.00,184.20L417.40,187.80" class="m"/>
<path d="M417.50,203.00L421.10,206.60M421.10,203.00L417.50,206.60" class="m"/>
<path d="M417.50,205.80L421.10,209.40M421.10,205.80L417.50,209.40" class="m"/>
<path d="M417.40,293.80L421.00,297.40M421.00,293.80L417.40,297.40" class="m"/>
<path d="M438.80,255.10L438.80,261.00" class="wh"/>
<path d="M434.80,255.10L442.80,255.10" class="wh"/>
<path d="M432.80,263.90H444.40" class="med"/>
<path d="M436.90,242.52L441.10,242.52L439.00,238.86Z" class="m"/>
<path d="M436.70,253.88L440.90,253.88L438.80,257.54Z" class="m"/>
<path d="M439.90,261.42L444.10,261.42L442.00,257.76Z" class="m"/>
<path d="M432.40,265.12L436.60,265.12L434.50,261.46Z" class="m"/>
<path d="M436.90,265.12L441.10,265.12L439.00,261.46Z" class="m"/>
<path d="M431.90,270.22L436.10,270.22L434.00,266.56Z" class="m"/>
<path d="M436.40,270.22L440.60,270.22L438.50,266.56Z" class="m"/>
<path d="M440.40,270.22L444.60,270.22L442.50,266.56Z" class="m"/>
<path d="M436.90,286.42L441.10,286.42L439.00,282.76Z" class="m"/>
<path d="M436.90,293.42L441.10,293.42L439.00,289.76Z" class="m"/>
<rect x="444.10" y="257.00" width="11.00" height="25.10" fill="#e4e4e6"/>
<path d="M450.00,231.10L450.00,257.00" class="wh"/>
<path d="M446.00,233.00L454.00,233.00" class="wh"/>
<path d="M447.00,273.10H455.50" class="med"/>
<circle cx="450.00" cy="233.00" r="2.1" class="m"/>
<circle cx="445.70" cy="254.60" r="2.1" class="m"/>
<circle cx="449.90" cy="256.00" r="2.1" class="m"/>
<circle cx="445.50" cy="273.10" r="2.1" class="m"/>
<circle cx="449.50" cy="273.10" r="2.1" class="m"/>
<circle cx="446.00" cy="280.00" r="2.1" class="m"/>
<circle cx="450.50" cy="279.50" r="2.1" class="m"/>
<circle cx="454.50" cy="279.00" r="2.1" class="m"/>
<rect x="455.10" y="280.10" width="12.10" height="9.10" fill="#e4e4e6"/>
<path d="M461.10,289.20L461.10,299.20" class="wh"/>
<path d="M457.10,299.20L465.10,299.20" class="wh"/>
<path d="M455.10,286.20H467.40" class="med"/>
<path d="M459.30,255.20L462.90,258.80M462.90,255.20L459.30,258.80" class="m"/>
<path d="M456.20,288.40L459.80,292.00M459.80,288.40L456.20,292.00" class="m"/>
<path d="M460.70,288.20L464.30,291.80M464.30,288.20L460.70,291.80" class="m"/>
<path d="M459.30,297.40L462.90,301.00M462.90,297.40L459.30,301.00" class="m"/>
<path d="M444.40,218.10V208.00H461.10V255.00" class="br"/>
<path d="M439.00,235.70V218.10H450.00V231.10" class="br"/>
<circle cx="452.80" cy="205.20" r="0.8" fill="#2a2a2a"/>
<rect x="474.00" y="267.70" width="12.00" height="17.30" fill="#e4e4e6"/>
<path d="M479.50,262.00L479.50,267.70" class="wh"/>
<path d="M479.50,285.00L479.50,290.90" class="wh"/>
<path d="M475.50,290.90L483.50,290.90" class="wh"/>
<path d="M474.00,275.80H486.00" class="med"/>
<path d="M477.40,242.82L481.60,242.82L479.50,239.16Z" class="m"/>
<path d="M477.40,263.22L481.60,263.22L479.50,259.56Z" class="m"/>
<path d="M473.90,269.22L478.10,269.22L476.00,265.56Z" class="m"/>
<path d="M478.90,269.72L483.10,269.72L481.00,266.06Z" class="m"/>
<path d="M477.40,273.22L481.60,273.22L479.50,269.56Z" class="m"/>
<path d="M474.40,277.02L478.60,277.02L476.50,273.36Z" class="m"/>
<path d="M478.40,277.02L482.60,277.02L480.50,273.36Z" class="m"/>
<path d="M474.90,282.22L479.10,282.22L477.00,278.56Z" class="m"/>
<path d="M479.40,284.22L483.60,284.22L481.50,280.56Z" class="m"/>
<path d="M477.40,289.68L481.60,289.68L479.50,293.34Z" class="m"/>
<rect x="486.00" y="266.00" width="12.00" height="14.00" fill="#e4e4e6"/>
<path d="M492.00,261.30L492.00,266.00" class="wh"/>
<path d="M492.00,280.00L492.00,283.60" class="wh"/>
<path d="M486.00,271.00H498.00" class="med"/>
<circle cx="492.00" cy="249.70" r="2.1" class="m"/>
<circle cx="492.00" cy="261.30" r="2.1" class="m"/>
<circle cx="488.50" cy="267.00" r="2.1" class="m"/>
<circle cx="492.00" cy="266.00" r="2.1" class="m"/>
<circle cx="495.50" cy="267.00" r="2.1" class="m"/>
<circle cx="489.00" cy="271.00" r="2.1" class="m"/>
<circle cx="493.00" cy="271.00" r="2.1" class="m"/>
<circle cx="497.00" cy="271.00" r="2.1" class="m"/>
<circle cx="490.00" cy="276.50" r="2.1" class="m"/>
<circle cx="494.50" cy="277.00" r="2.1" class="m"/>
<circle cx="492.00" cy="283.60" r="2.1" class="m"/>
<rect x="498.30" y="266.20" width="8.70" height="21.80" fill="#e4e4e6"/>
<path d="M502.10,242.20L502.10,266.20" class="wh"/>
<path d="M498.10,242.20L506.10,242.20" class="wh"/>
<path d="M502.10,288.00L502.10,299.60" class="wh"/>
<path d="M498.10,299.60L506.10,299.60" class="wh"/>
<path d="M498.30,269.10H507.20" class="med"/>
<path d="M500.30,240.40L503.90,244.00M503.90,240.40L500.30,244.00" class="m"/>
<path d="M500.30,264.70L503.90,268.30M503.90,264.70L500.30,268.30" class="m"/>
<path d="M499.20,288.20L502.80,291.80M502.80,288.20L499.20,291.80" class="m"/>
<path d="M500.30,297.80L503.90,301.40M503.90,297.80L500.30,301.40" class="m"/>
</svg>
<div style="position:absolute;left:0;top:0;width:518px;height:322px;border:1px solid #484848;"></div>
<div style="position:absolute;left:1px;top:1px;width:516px;height:320px;border:1px solid #e4e4e4;"></div>
</body></html>
